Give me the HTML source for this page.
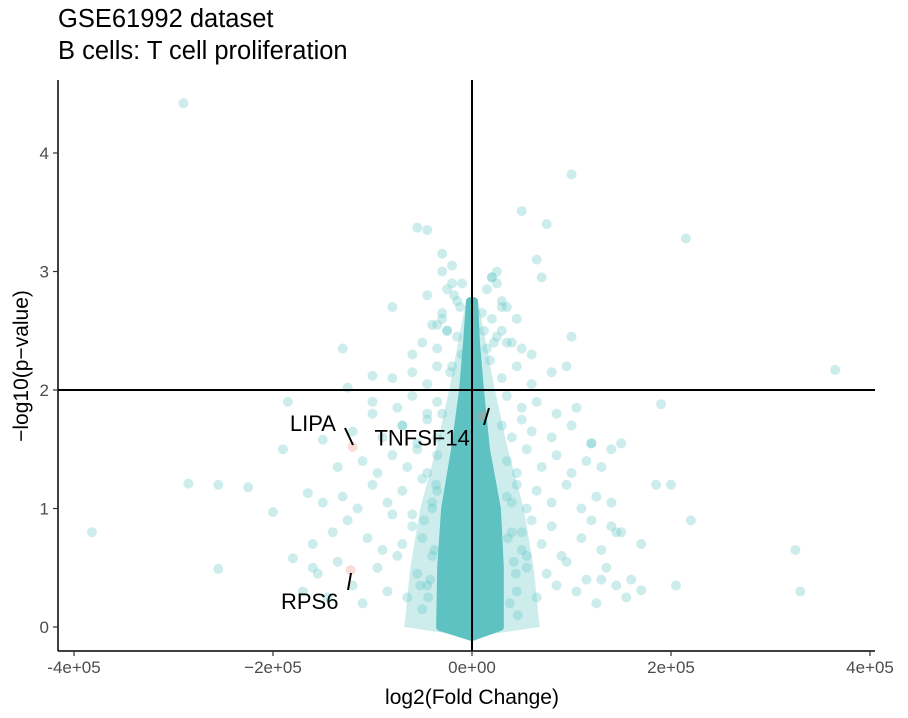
<!DOCTYPE html>
<html><head><meta charset="utf-8"><style>
body{margin:0;background:#fff;}
svg{display:block;font-family:"Liberation Sans",Arial,sans-serif;}
</style></head><body>
<svg id="chart" width="908" height="718" viewBox="0 0 908 718">
<text x="58" y="27" font-size="25.5" fill="#000">GSE61992 dataset</text>
<text x="58" y="59" font-size="25.5" fill="#000">B cells: T cell proliferation</text>
<g id="core"></g>
<g id="pts"></g>
<g id="axes"></g>
<g id="labels"></g>
</svg>
<script>
const xTicks=[-4e5,-2e5,0,2e5,4e5];
const xTickLabels=["-4e+05","\u22122e+05","0e+00","2e+05","4e+05"];
const yTicks=[0,1,2,3,4];
const yTickLabels=["0","1","2","3","4"];
// fold change in units of 1e5
const foldChange=[-2.9,-3.82,-2.85,-2.55,-2.25,-2.0,-2.55,-1.85,-1.9,-1.65,-1.3,-1.25,-1.5,-1.8,-1.6,-1.0,-0.8,-0.55,-0.45,-0.3,1.0,0.5,0.75,2.15,0.65,0.7,3.65,1.9,1.5,1.85,2.0,2.2,3.25,3.3,1.7,2.05,1.6,1.3,1.0,0.95,1.2,1.4,1.4,1.5,-1.0,-0.7,0.2,0.3,-0.2,-0.15,-0.1,
-1.7,-1.55,-1.45,-1.35,-1.2,-1.1,-0.95,-0.85,-0.75,-0.65,-0.55,-0.45,0.45,0.55,0.65,0.75,0.85,0.95,1.05,1.15,1.25,1.35,1.45,1.55,
-1.6,-1.4,-1.25,-1.05,-0.9,-0.8,-0.7,-0.6,-0.5,-0.4,0.4,0.5,0.6,0.7,0.8,0.9,1.1,1.2,1.3,1.45,1.7,
-1.5,-1.3,-1.15,-1.0,-0.85,-0.7,-0.6,-0.5,-0.4,-0.35,0.35,0.45,0.55,0.65,0.8,0.95,1.1,1.25,1.4,
-1.35,-1.1,-0.95,-0.8,-0.65,-0.55,-0.45,-0.35,0.35,0.45,0.55,0.7,0.85,1.0,1.15,1.3,
-1.2,-0.9,-0.7,-0.55,-0.45,-0.35,-0.3,0.3,0.4,0.5,0.6,0.8,1.0,1.2,
-1.0,-0.75,-0.6,-0.45,-0.35,0.35,0.5,0.65,0.85,1.05,
-0.8,-0.6,-0.45,-0.35,0.3,0.45,0.6,0.8,
-0.5,-0.35,-0.25,0.25,0.35,0.5,
-0.6,-0.4,-0.3,0.3,0.4,0.6,
-0.45,-0.3,0.3,0.45,
-0.35,-0.25,0.25,0.35,
-0.3,-0.2,0.2,0.25,-0.25,0.15,
-0.5,-0.42,-0.38,0.38,0.42,0.5,-0.48,0.46,-0.4,0.4,-0.52,0.55,-0.44,0.36,-0.36,0.44,
-0.2,-0.15,0.15,0.2,-0.12,0.12,-0.18,0.18,-0.1,0.1,-0.22,0.22];
const negLogP=[4.42,0.8,1.21,1.2,1.18,0.97,0.49,1.9,1.5,1.13,2.35,2.02,1.58,0.58,0.5,2.12,2.7,3.37,3.35,3.15,3.82,3.51,3.4,3.28,3.1,2.95,2.17,1.88,1.55,1.2,1.2,0.9,0.65,0.3,0.31,0.35,0.4,0.4,2.45,2.2,1.55,1.5,0.85,0.8,1.8,1.7,2.95,2.7,2.9,2.75,2.3,
0.3,0.45,0.25,0.55,0.35,0.2,0.5,0.3,0.6,0.25,0.45,0.35,0.3,0.5,0.25,0.45,0.35,0.55,0.3,0.4,0.2,0.5,0.35,0.25,
0.7,0.8,0.9,0.75,0.65,0.95,0.7,0.85,0.75,0.6,0.8,0.65,0.9,0.7,0.85,0.6,0.75,0.9,0.65,0.8,0.7,
1.05,1.1,1.0,1.2,1.05,1.15,0.95,1.25,1.05,1.15,1.1,1.2,1.0,1.15,1.05,1.2,1.0,1.1,1.05,
1.35,1.4,1.3,1.45,1.35,1.5,1.3,1.45,1.4,1.3,1.5,1.35,1.45,1.3,1.4,1.35,
1.65,1.6,1.7,1.55,1.75,1.6,1.8,1.7,1.6,1.75,1.65,1.6,1.7,1.55,
1.9,1.85,1.95,1.8,1.9,1.95,1.85,1.9,1.8,1.85,
2.1,2.15,2.05,2.2,2.1,2.2,2.05,2.15,
2.4,2.35,2.5,2.45,2.4,2.35,
2.3,2.55,2.6,2.5,2.4,2.3,
2.8,2.65,2.75,2.6,
2.55,2.85,2.9,2.7,
3.0,3.05,2.95,3.0,2.5,2.85,
0.15,0.4,0.65,0.2,0.55,0.8,0.9,0.1,1.0,1.05,0.35,0.6,0.25,0.75,1.2,0.45,
2.2,2.45,2.35,2.6,2.7,2.5,2.8,2.25,2.9,2.65,2.15,2.4];
const highlightGenes=["LIPA","TNFSF14","RPS6"];
const highlightFold=[-1.2,0.1,-1.22];
const highlightP=[1.52,1.78,0.48];
const coreTop=[0,0.5,1.0,1.5,2.0,2.4,2.75];
const coreHalfLeft=[0.32,0.31,0.27,0.17,0.09,0.05,0.02];
const coreHalfRight=[0.28,0.28,0.25,0.14,0.08,0.04,0.02];
const haloHalf=[0.68,0.62,0.52,0.36,0.23,0.14,0.06];

const NS="http://www.w3.org/2000/svg";
const X0=58,X1=875,Y0=80,Y1=651;
function sx(v){return 472+v*99.5/1e5;}
function sy(v){return 627-v*118.5;}
function mk(tag,attrs,parent){const e=document.createElementNS(NS,tag);for(const k in attrs)e.setAttribute(k,attrs[k]);parent.appendChild(e);return e;}
function shape(L,R){
  let d="M"+sx(0)+","+(sy(0)+10);
  for(let i=0;i<coreTop.length;i++)d+=" L"+sx(-L[i]*1e5)+","+sy(coreTop[i]);
  for(let i=coreTop.length-1;i>=0;i--)d+=" L"+sx(R[i]*1e5)+","+sy(coreTop[i]);
  return d+" Z";
}
const core=document.getElementById('core');
const hp=mk('path',{d:shape(haloHalf,haloHalf),fill:"#5bc4c4","fill-opacity":0.3},core);


const cp=mk('path',{d:shape(coreHalfLeft,coreHalfRight),fill:"#5ec2c3",stroke:"#5ec2c3","stroke-width":8,"stroke-linejoin":"round"},core);



const pts=document.getElementById('pts');
for(let i=0;i<foldChange.length;i++){
  const c=mk('circle',{cx:sx(foldChange[i]*1e5),cy:sy(negLogP[i]),r:5,fill:"#5bc4c4","fill-opacity":0.3},pts);
  
  
}
for(let i=0;i<highlightGenes.length;i++){
  const c=mk('circle',{cx:sx(highlightFold[i]*1e5),cy:sy(highlightP[i]),r:5,fill:"#f08a80","fill-opacity":0.3},pts);
  
  
}

const ax=document.getElementById('axes');
mk('line',{x1:X0,y1:sy(2),x2:X1,y2:sy(2),stroke:"#000","stroke-width":2},ax);
mk('line',{x1:sx(0),y1:Y0,x2:sx(0),y2:Y1,stroke:"#000","stroke-width":2},ax);
mk('line',{x1:X0,y1:Y0,x2:X0,y2:Y1,stroke:"#000","stroke-width":1.5},ax);
mk('line',{x1:X0,y1:Y1,x2:X1,y2:Y1,stroke:"#000","stroke-width":1.5},ax);
for(let i=0;i<xTicks.length;i++){
  const x=sx(xTicks[i]);
  const tk=mk('line',{x1:x,y1:Y1,x2:x,y2:Y1+5,stroke:"#333","stroke-width":1.2},ax);
  
  const t=mk('text',{x:x,y:Y1+22,"text-anchor":"middle","font-size":17,fill:"#4d4d4d"},ax);
  t.textContent=xTickLabels[i];
  
  
}
for(let i=0;i<yTicks.length;i++){
  const y=sy(yTicks[i]);
  const tk=mk('line',{x1:X0-5,y1:y,x2:X0,y2:y,stroke:"#333","stroke-width":1.2},ax);
  
  const t=mk('text',{x:X0-9,y:y+6,"text-anchor":"end","font-size":17,fill:"#4d4d4d"},ax);
  t.textContent=yTickLabels[i];
  
  
}
const xt=mk('text',{x:472,y:704,"text-anchor":"middle","font-size":21,fill:"#000"},ax);
xt.textContent="log2(Fold Change)";


const yt=mk('text',{x:0,y:0,"text-anchor":"middle","font-size":21,fill:"#000",transform:"translate(28,366) rotate(-90)"},ax);
yt.textContent="\u2212log10(p\u2212value)";



const lb=document.getElementById('labels');
const labelTx=[-1.83,-0.98,-1.92];
const labelTy=[1.72,1.6,0.22];
const seg=[[345,428,353,445],[484,425,489,408],[348,590,351,573]];
for(let i=0;i<highlightGenes.length;i++){
  const t=mk('text',{x:sx(labelTx[i]*1e5),y:sy(labelTy[i])+8,"font-size":22,fill:"#000"},lb);
  t.textContent=highlightGenes[i];
  
  
  const l=mk('line',{x1:seg[i][0],y1:seg[i][1],x2:seg[i][2],y2:seg[i][3],stroke:"#000","stroke-width":2},lb);
  
  
}
</script>
</body></html>
